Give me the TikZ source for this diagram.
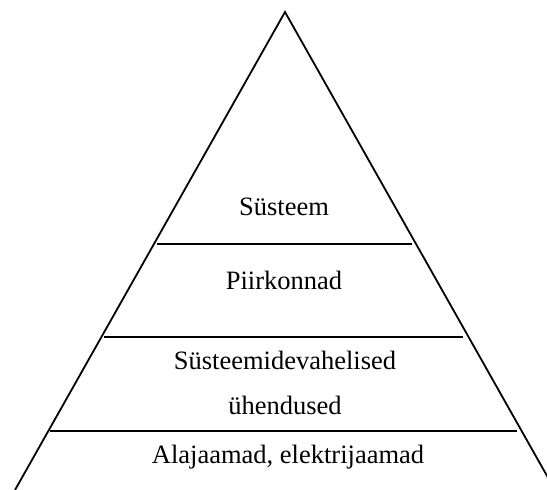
\documentclass[tikz,border=0pt]{standalone}
\usepackage{fontspec}
\setmainfont{Liberation Serif}
\begin{document}
\begin{tikzpicture}[x=1pt,y=-1pt,
  edge/.style={line width=1.8pt,line join=miter},
  tier/.style={line width=1.8pt},
  label/.style={anchor=base,inner sep=0pt,font=\fontsize{26.5}{45}\selectfont}]
  \useasboundingbox (0,0) rectangle (547,490);
  \clip (0,0) rectangle (547,490);
  % pyramid outline
  \coordinate (apex) at (285,12);
  \coordinate (bl) at (15,490);
  \coordinate (br) at (555,490);
  \draw[edge] (bl) -- (apex) -- (br);
  % tier separators
  \coordinate (s1l) at (157,244); \coordinate (s1r) at (412,244);
  \coordinate (s2l) at (104,337); \coordinate (s2r) at (463,337);
  \coordinate (s3l) at (50,431); \coordinate (s3r) at (517,431);
  \draw[tier] (s1l) -- (s1r);
  \draw[tier] (s2l) -- (s2r);
  \draw[tier] (s3l) -- (s3r);
  % tier labels
  \node[label] (t1) at (284,215) {Süsteem};
  \node[label] (t2) at (284,289) {Piirkonnad};
  \node[label] (t3a) at (285,369) {Süsteemidevahelised};
  \node[label] (t3b) at (285,414) {ühendused};
  \node[label] (t4) at (288,463) {Alajaamad, elektrijaamad};
\end{tikzpicture}
\end{document}
